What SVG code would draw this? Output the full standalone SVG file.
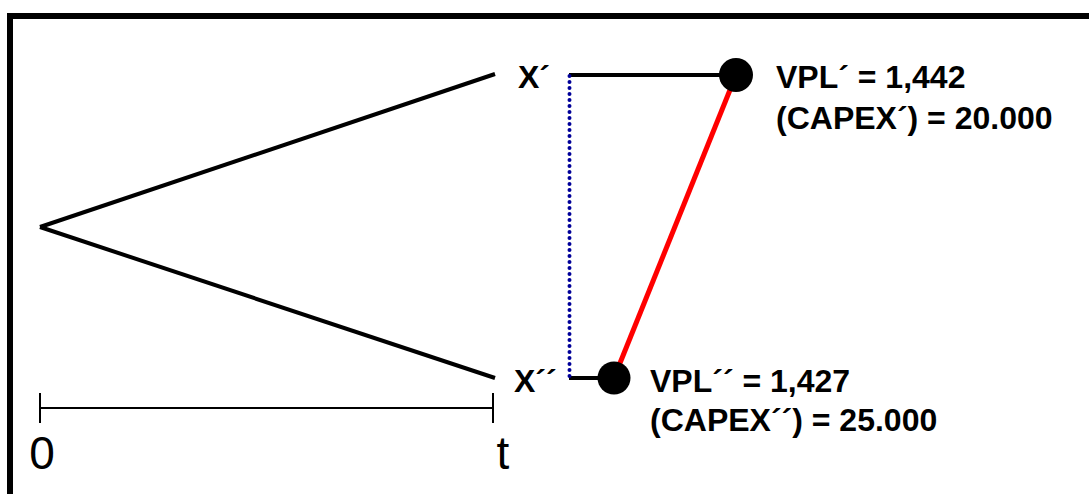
<svg xmlns="http://www.w3.org/2000/svg" width="1089" height="494" viewBox="0 0 1089 494">
<style>
.b{font-family:"Liberation Sans",Arial,sans-serif;font-weight:bold;font-size:32px;fill:#000}
.r{font-family:"Liberation Sans",Arial,sans-serif;font-size:46px;fill:#000}
.ln{stroke:#000;stroke-width:4;fill:none}
</style>
<rect width="1089" height="494" fill="#fff"/>
<rect x="10" y="16" width="1110" height="520" fill="none" stroke="#000" stroke-width="6"/>
<g id="connectors">
<line class="ln" x1="40" y1="227" x2="495" y2="74"/>
<line class="ln" x1="40" y1="227" x2="495" y2="378"/>
<line class="ln" x1="569" y1="75" x2="736" y2="75"/>
<line class="ln" x1="569" y1="378" x2="614" y2="378"/>
<line x1="569.5" y1="76" x2="569.5" y2="378" stroke="#000099" stroke-width="4" stroke-dasharray="0 6" stroke-linecap="round"/>
<line x1="736" y1="75" x2="614" y2="378" stroke="#ff0000" stroke-width="5"/>
</g>
<g id="axis">
<line x1="40" y1="408" x2="493" y2="408" stroke="#000" stroke-width="2"/>
<line x1="40" y1="393" x2="40" y2="423" stroke="#000" stroke-width="2"/>
<line x1="493" y1="393" x2="493" y2="423" stroke="#000" stroke-width="2"/>
<text class="r" x="42" y="469" text-anchor="middle">0</text>
<text class="r" x="503" y="469" text-anchor="middle">t</text>
</g>
<g id="node-x1">
<text class="b" x="518" y="88">X´</text>
</g>
<g id="node-x2">
<text class="b" x="514" y="392">X´´</text>
</g>
<g id="node-vpl1">
<circle cx="736" cy="75" r="17" fill="#000"/>
<text class="b" x="776" y="88">VPL´ = 1,442</text>
<text class="b" x="776" y="129">(CAPEX´) = 20.000</text>
</g>
<g id="node-vpl2">
<circle cx="614" cy="378" r="16.5" fill="#000"/>
<text class="b" x="650" y="392">VPL´´ = 1,427</text>
<text class="b" x="650" y="431">(CAPEX´´) = 25.000</text>
</g>
</svg>
